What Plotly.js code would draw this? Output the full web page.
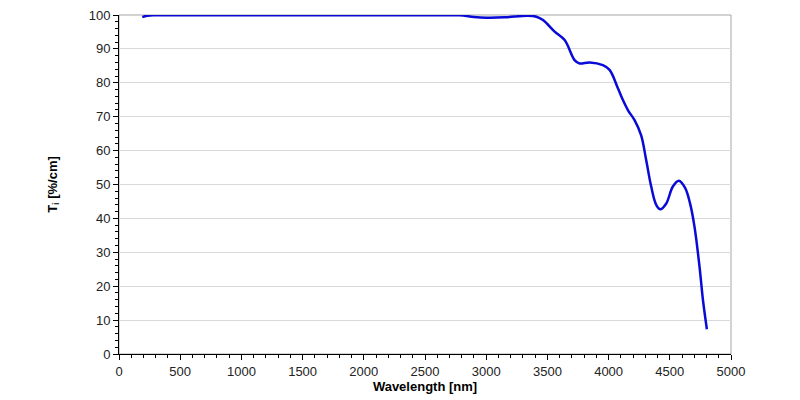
<!DOCTYPE html>
<html>
<head>
<meta charset="utf-8">
<script src="https://cdn.plot.ly/plotly-3.0.1.min.js"></script>
<style>
  html, body { margin: 0; padding: 0; background: #fff; }
  #graph { width: 800px; height: 400px; }
</style>
</head>
<body>
<div id="graph"></div>
<script>
// wavelength [nm] and internal transmittance [%/cm]
var wavelength = [190, 230, 300, 500, 1000, 1500, 2000, 2500, 2780, 2900, 3000, 3150, 3340, 3410, 3464, 3559, 3641, 3722, 3763, 3845, 3953, 4008, 4076, 4117, 4160, 4212, 4266, 4307, 4348, 4389, 4422, 4471, 4525, 4574, 4625, 4665, 4702, 4743, 4771, 4803];
var transmittance = [99.4, 99.8, 99.9, 99.9, 99.9, 99.9, 99.9, 99.9, 99.9, 99.4, 99.2, 99.3, 99.8, 99.5, 98.5, 95.1, 92.6, 86.7, 85.7, 86.0, 85.2, 83.8, 78.4, 74.9, 71.8, 69.0, 64.5, 57.2, 49.4, 44.0, 42.7, 44.4, 49.4, 51.1, 49.0, 44.5, 37.5, 25.7, 15.9, 7.3];

var xTicks = [0, 500, 1000, 1500, 2000, 2500, 3000, 3500, 4000, 4500, 5000];
var yTicks = [0, 10, 20, 30, 40, 50, 60, 70, 80, 90, 100];

var trace = {
  x: wavelength,
  y: transmittance,
  mode: "lines",
  line: {color: "#0a0ad8", width: 2.5, shape: "spline", smoothing: 1},
  hoverinfo: "skip"
};

var tickFont = {family: "Liberation Sans, Arial, sans-serif", size: 13, color: "#222"};
var titleFont = {family: "Liberation Sans, Arial, sans-serif", size: 13, color: "#000"};

var layout = {
  width: 800,
  height: 400,
  showlegend: false,
  paper_bgcolor: "#fff",
  plot_bgcolor: "#fff",
  margin: {l: 119, r: 69, t: 15, b: 46},
  xaxis: {
    range: [0, 5000],
    autorange: false,
    tickvals: xTicks,
    ticktext: xTicks.map(String),
    ticks: "outside",
    ticklen: 5,
    tickcolor: "#000",
    tickfont: tickFont,
    showgrid: false,
    zeroline: false,
    showline: true,
    linecolor: "#000",
    linewidth: 1,
    minor: {ticks: "outside", dtick: 100, tick0: 0, ticklen: 3, tickcolor: "#000", showgrid: false},
    title: {text: "<b>Wavelength [nm]</b>", font: titleFont, standoff: 3}
  },
  yaxis: {
    range: [0, 100],
    autorange: false,
    tickvals: yTicks,
    ticktext: yTicks.map(String),
    ticks: "outside",
    ticklen: 5,
    tickcolor: "#000",
    tickfont: tickFont,
    showgrid: true,
    gridcolor: "#d9d9d9",
    gridwidth: 1,
    zeroline: false,
    showline: true,
    linecolor: "#000",
    linewidth: 1,
    minor: {ticks: "outside", dtick: 2, tick0: 0, ticklen: 3, tickcolor: "#000", showgrid: false},
    title: {text: "<b>T<sub>i</sub> [%/cm]</b>", font: titleFont, standoff: 28}
  },
  shapes: [{
    type: "rect", xref: "paper", yref: "paper",
    x0: 0, x1: 1, y0: 0, y1: 1,
    line: {color: "#a6a6a6", width: 1},
    layer: "below"
  }]
};

Plotly.newPlot("graph", [trace], layout, {displayModeBar: false, staticPlot: true});
</script>
</body>
</html>
